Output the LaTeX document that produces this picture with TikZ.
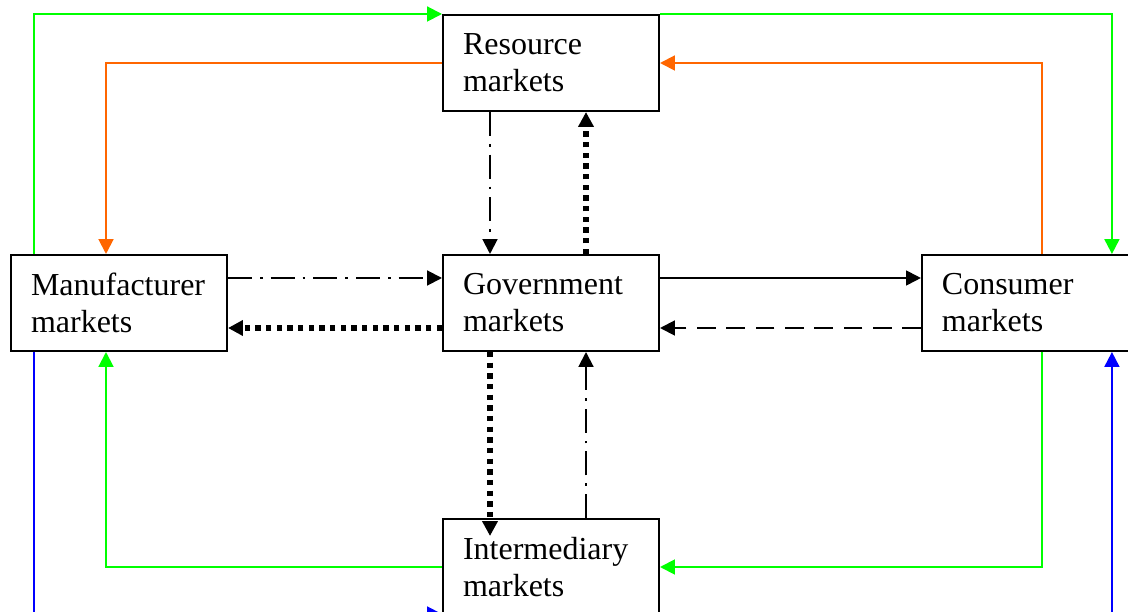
\documentclass[tikz,border=0pt]{standalone}
\usepackage{fontspec}
\setmainfont{Liberation Serif}
\usetikzlibrary{arrows.meta,calc,positioning}
\definecolor{flowgreen}{RGB}{0,255,0}
\definecolor{floworange}{RGB}{255,102,0}
\definecolor{flowblue}{RGB}{0,0,255}

\begin{document}
\begin{tikzpicture}[line cap=butt,line join=miter,x=0.375pt,y=-0.375pt,
  >={Triangle[length=5.6pt,width=5.6pt]},
  market/.style={draw,line width=0.75pt,minimum width=81pt,minimum height=36pt,
    text width=66pt,inner xsep=7.5pt,align=left,font=\fontsize{12}{13.9}\selectfont},
  solidline/.style={line width=0.75pt},
  dashdot/.style={line width=0.75pt,dash pattern=on 9pt off 3pt on 1pt off 3pt},
  dotline/.style={line width=2pt,dash pattern=on 2pt off 2pt},
  dashline/.style={line width=0.75pt,dash pattern=on 7pt off 4pt},
  greenline/.style={draw=flowgreen,line width=0.75pt},
  orangeline/.style={draw=floworange,line width=0.75pt},
  blueline/.style={draw=flowblue,line width=0.75pt}]

\useasboundingbox (0,0) rectangle (1128,612);
\clip (0,0) rectangle (1128,612);

% markets
\node[market] (gov) at (551,303) {Government\\markets};
\node[market,above=53.25pt of gov] (res) {Resource\\markets};
\node[market,left=80.25pt of gov] (man) {Manufacturer\\markets};
\node[market,right=97.85pt of gov] (con) {Consumer\\markets};
\node[market,below=62.25pt of gov] (int) {Intermediary\\markets};

% outer loops
\draw[greenline,->] ($(man.north west)+(24,0)$) |- (res.north west);
\draw[greenline,->] (res.north east) -| ($(con.north west)+(191,0)$);
\draw[orangeline,->] (res.west) -| ($(man.north west)+(96,0)$);
\draw[orangeline,->] ($(con.north west)+(121,0)$) |- (res.east);
\draw[greenline,->] (int.west) -| ($(man.south west)+(96,0)$);
\draw[greenline,->] ($(con.south west)+(121,0)$) |- (int.east);
\draw[blueline,->] ($(man.south west)+(24,0)$) |- ($(int.south west)+(0,-2)$);
\draw[blueline,->] ($(con.south west)+(191,300)$) -- ($(con.south west)+(191,0)$);

% flows through government
\draw[dashdot,->] ($(res.south west)+(48,0)$) -- ($(gov.north west)+(48,0)$);
\draw[dotline,->] ($(gov.north west)+(144,0)$) -- ($(res.south west)+(144,0)$);
\draw[dashdot,->] ($(man.north east)+(0,24)$) -- ($(gov.north west)+(0,24)$);
\draw[dotline,->] ($(gov.south west)+(0,-24)$) -- ($(man.south east)+(0,-24)$);
\draw[solidline,->] ($(gov.north east)+(0,24)$) -- ($(con.north west)+(0,24)$);
\draw[dashline,->] ($(con.south west)+(0,-24)$) -- ($(gov.south east)+(0,-24)$);
\draw[dotline,->] ($(gov.south west)+(48,0)$) -- ($(int.north west)+(48,18)$);
\draw[dashdot,->] ($(int.north west)+(144,0)$) -- ($(gov.south west)+(144,0)$);
\end{tikzpicture}
\end{document}
